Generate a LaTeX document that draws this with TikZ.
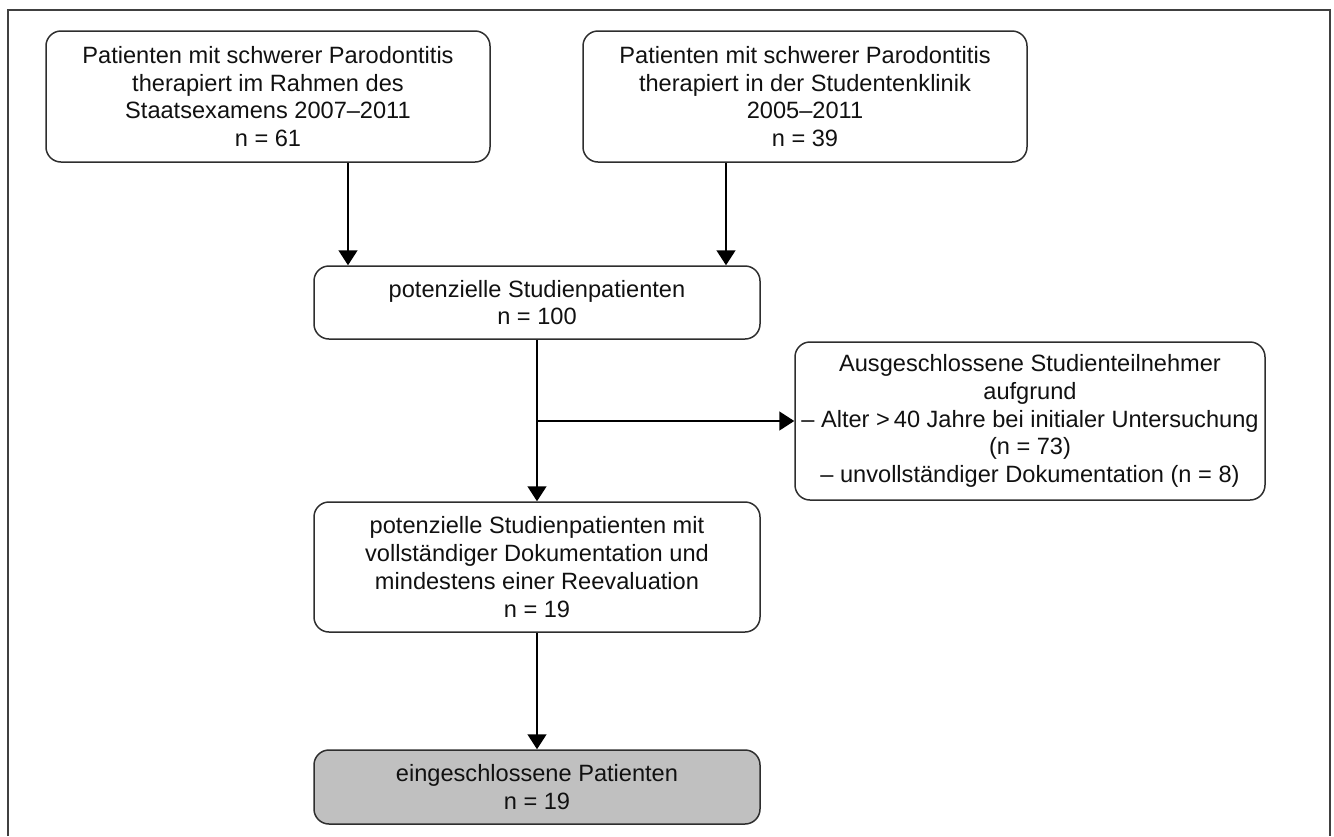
\documentclass[tikz,border=0pt]{standalone}
\usepackage{fontspec}
\setmainfont{Liberation Sans}
\usetikzlibrary{arrows.meta}
\definecolor{linegray}{HTML}{2E2E2E}
\definecolor{framegray}{HTML}{404040}
\definecolor{boxfill}{HTML}{C0C0C0}
\definecolor{textcol}{HTML}{111111}
\begin{document}
\begin{tikzpicture}[x=0.5pt,y=-0.5pt,
  flowbox/.style={draw=linegray, line width=0.75pt, rounded corners=7.5pt,
    align=center, inner sep=0pt, text=textcol,
    font=\fontsize{11.8}{13.9}\selectfont},
  arr/.style={draw=black, line width=0.75pt, -{Triangle[length=7.5pt,width=9.5pt]}},
  link/.style={draw=black, line width=0.75pt}]
\useasboundingbox (0,0) rectangle (1334,836);
\draw[framegray, line width=1pt] (8,836) -- (8,10) -- (1330,10) -- (1330,836);

\node[flowbox, minimum width=222pt, minimum height=65.5pt] (b1) at (268,96.5)
  {Patienten mit schwerer Parodontitis\\therapiert im Rahmen des\\Staatsexamens 2007–2011\\n = 61};
\node[flowbox, minimum width=222pt, minimum height=65.5pt] (b2) at (805,96.5)
  {Patienten mit schwerer Parodontitis\\therapiert in der Studentenklinik\\2005–2011\\n = 39};
\node[flowbox, minimum width=223pt, minimum height=36.5pt] (b3) at (537,302.5)
  {potenzielle Studienpatienten\\n = 100};
\node[flowbox, minimum width=235pt, minimum height=79pt] (b4) at (1030,421)
  {Ausgeschlossene Studienteilnehmer\\aufgrund\\– Alter >\,40 Jahre bei initialer Untersuchung\\(n = 73)\\– unvollständiger Dokumentation (n = 8)};
\node[flowbox, minimum width=223pt, minimum height=65pt] (b5) at (537,567)
  {potenzielle Studienpatienten mit\\vollständiger Dokumentation und\\mindestens einer Reevaluation\\n = 19};
\node[flowbox, fill=boxfill, minimum width=223pt, minimum height=37pt] (b6) at (537,787)
  {eingeschlossene Patienten\\n = 19};

\coordinate (j) at (537,421);
\draw[arr] ([xshift=40pt]b1.south) -- ([xshift=40pt]b1.south |- b3.north);
\draw[arr] ([xshift=-39.5pt]b2.south) -- ([xshift=-39.5pt]b2.south |- b3.north);
\draw[arr] (b3.south) -- (b5.north);
\draw[arr] (j) -- (b4.west);
\draw[arr] (b5.south) -- (b6.north);
\end{tikzpicture}
\end{document}
